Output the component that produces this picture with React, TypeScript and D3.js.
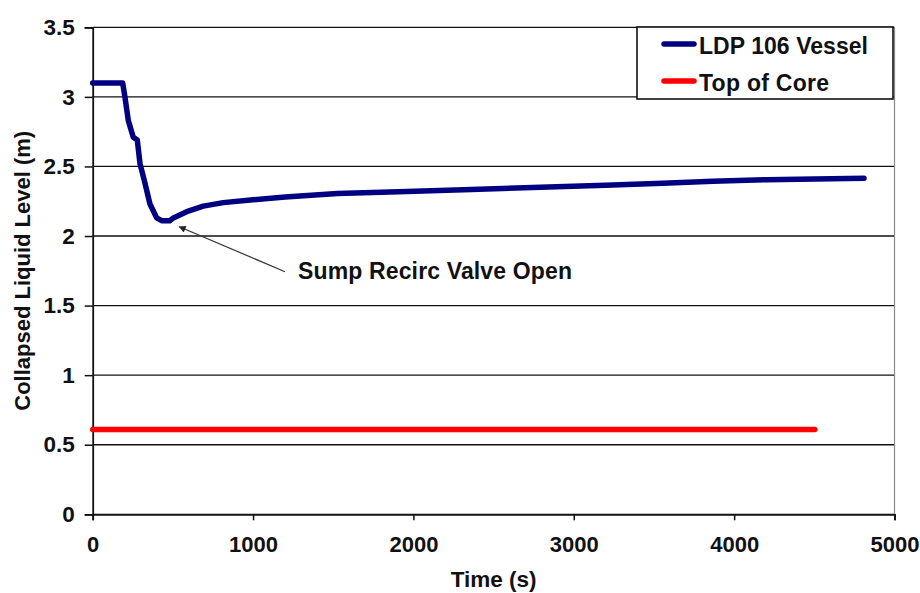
import React, { useEffect, useRef } from 'react';
import * as d3 from 'd3';

// LDP 106 vessel collapsed liquid level (time s, level m)
const vesselTime = [0, 187, 201, 222, 253, 278, 295, 326, 357, 399, 430, 480, 503, 586, 690, 814, 1000, 1200, 1526, 1908, 2362, 2792, 3198, 3555, 3867, 4201, 4810];
const vesselLevel = [3.10, 3.10, 3.00, 2.83, 2.71, 2.69, 2.52, 2.38, 2.23, 2.13, 2.11, 2.11, 2.13, 2.175, 2.215, 2.24, 2.26, 2.28, 2.305, 2.318, 2.335, 2.35, 2.365, 2.38, 2.393, 2.405, 2.415];

const coreTime = [0, 4503];
const coreLevel = [0.61, 0.61];

const xTicks = [0, 1000, 2000, 3000, 4000, 5000];
const yTicks = [0, 0.5, 1, 1.5, 2, 2.5, 3, 3.5];

const seriesNames = ['LDP 106 Vessel', 'Top of Core'];
const seriesColors = ['#000080', '#ff0000'];

const annotationText = 'Sump Recirc Valve Open';
const annotationPoint = [540, 2.11];

export default function App() {
  const svgRef = useRef<SVGSVGElement | null>(null);
  const width = 920;
  const height = 593;

  useEffect(() => {
    const margin = { top: 27.3, right: 25.5, bottom: 78.7, left: 92.7 };
    const innerWidth = width - margin.left - margin.right;
    const innerHeight = height - margin.top - margin.bottom;
    const font = '"Liberation Sans", Arial, sans-serif';

    const svg = d3.select(svgRef.current);
    svg.selectAll('*').remove();

    const defs = svg.append('defs');
    defs.append('marker')
      .attr('id', 'arrowhead')
      .attr('viewBox', '0 0 10 10')
      .attr('refX', 9).attr('refY', 5)
      .attr('markerWidth', 9).attr('markerHeight', 7)
      .attr('markerUnits', 'userSpaceOnUse')
      .attr('orient', 'auto')
      .append('path')
      .attr('d', 'M0,0 L10,5 L0,10 z')
      .attr('fill', '#222');

    const g = svg.append('g')
      .attr('transform', `translate(${margin.left},${margin.top})`);

    const x = d3.scaleLinear().domain([0, 5000]).range([0, innerWidth]);
    const y = d3.scaleLinear().domain([0, 3.5]).range([innerHeight, 0]);

    // horizontal gridlines
    g.append('g')
      .selectAll('line')
      .data(yTicks).enter().append('line')
      .attr('x1', 0).attr('x2', innerWidth)
      .attr('y1', d => y(d)).attr('y2', d => y(d))
      .attr('stroke', '#111')
      .attr('stroke-width', 1.3);

    // right border
    g.append('line')
      .attr('x1', innerWidth).attr('x2', innerWidth)
      .attr('y1', 0).attr('y2', innerHeight)
      .attr('stroke', '#888')
      .attr('stroke-width', 1.2);

    const xAxis = g.append('g')
      .attr('transform', `translate(0,${innerHeight})`)
      .call(d3.axisBottom(x).tickValues(xTicks).tickSize(6).tickPadding(16).tickFormat(d3.format('d')));
    xAxis.select('.domain').attr('stroke', '#111').attr('stroke-width', 1.8);
    xAxis.selectAll('.tick line').attr('stroke', '#111').attr('stroke-width', 1.5);
    xAxis.selectAll('text')
      .attr('font-family', font).attr('font-size', 22).attr('font-weight', 'bold').attr('fill', '#111');

    const yAxis = g.append('g')
      .call(d3.axisLeft(y).tickValues(yTicks).tickSize(8).tickPadding(10).tickFormat(d => String(d)));
    yAxis.select('.domain').attr('stroke', '#111').attr('stroke-width', 1.8);
    yAxis.selectAll('.tick line').attr('stroke', '#111').attr('stroke-width', 1.5);
    yAxis.selectAll('text')
      .attr('font-family', font).attr('font-size', 22.5).attr('font-weight', 'bold').attr('fill', '#111');

    const lineGen = d3.line<[number, number]>()
      .x(d => x(d[0]))
      .y(d => y(d[1]));

    const coreData = coreTime.map((t, i) => [t, coreLevel[i]] as [number, number]);
    const vesselData = vesselTime.map((t, i) => [t, vesselLevel[i]] as [number, number]);

    g.append('path')
      .attr('d', lineGen(coreData))
      .attr('fill', 'none')
      .attr('stroke', seriesColors[1])
      .attr('stroke-width', 5.5)
      .attr('stroke-linecap', 'round');

    g.append('path')
      .attr('d', lineGen(vesselData))
      .attr('fill', 'none')
      .attr('stroke', seriesColors[0])
      .attr('stroke-width', 5.5)
      .attr('stroke-linejoin', 'round')
      .attr('stroke-linecap', 'round');

    // annotation arrow
    g.append('line')
      .attr('x1', 285 - margin.left).attr('y1', 271.7 - margin.top)
      .attr('x2', x(annotationPoint[0])).attr('y2', y(annotationPoint[1]) + 6)
      .attr('stroke', '#333')
      .attr('stroke-width', 1.2)
      .attr('marker-end', 'url(#arrowhead)');

    g.append('text')
      .attr('x', 298 - margin.left).attr('y', 279 - margin.top)
      .attr('font-family', font).attr('font-size', 23).attr('font-weight', 'bold').attr('fill', '#111')
      .attr('textLength', 274).attr('lengthAdjust', 'spacing')
      .text(annotationText);

    // legend
    const legend = svg.append('g').attr('transform', 'translate(637,27)');
    legend.append('rect')
      .attr('width', 256).attr('height', 72)
      .attr('fill', '#fff')
      .attr('stroke', '#111')
      .attr('stroke-width', 1.6);
    const legendWidths = [169, 130];
    seriesNames.forEach((name, i) => {
      const ly = 17 + i * 37;
      legend.append('line')
        .attr('x1', 27).attr('x2', 57)
        .attr('y1', ly).attr('y2', ly)
        .attr('stroke', seriesColors[i])
        .attr('stroke-width', 5.5)
        .attr('stroke-linecap', 'round');
      legend.append('text')
        .attr('x', 62).attr('y', ly + 10)
        .attr('font-family', font).attr('font-size', 23).attr('font-weight', 'bold').attr('fill', '#111')
        .attr('textLength', legendWidths[i]).attr('lengthAdjust', 'spacing')
        .text(name);
    });

    // axis titles
    svg.append('text')
      .attr('x', margin.left + innerWidth / 2).attr('y', 587)
      .attr('text-anchor', 'middle')
      .attr('font-family', font).attr('font-size', 22.5).attr('font-weight', 'bold').attr('fill', '#111')
      .text('Time (s)');

    svg.append('text')
      .attr('transform', `translate(30,${margin.top + innerHeight / 2}) rotate(-90)`)
      .attr('text-anchor', 'middle')
      .attr('font-family', font).attr('font-size', 22).attr('font-weight', 'bold').attr('fill', '#111')
      .text('Collapsed Liquid Level (m)');
  }, []);

  return (
    <svg ref={svgRef} width={width} height={height}
      style={{ position: 'absolute', left: 0, top: 0, background: 'white' }} />
  );
}
